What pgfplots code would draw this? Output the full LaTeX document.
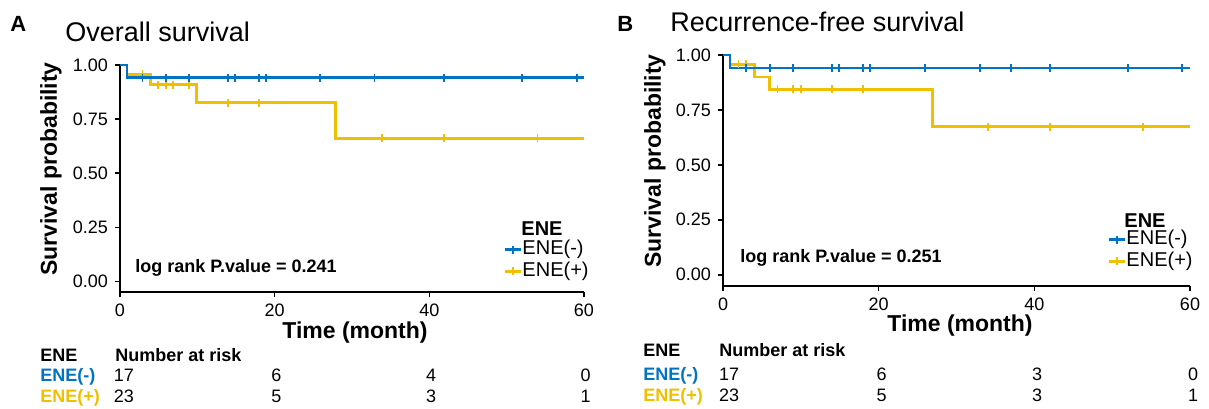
\documentclass[border=0pt]{standalone}
\usepackage{fontspec}
\setmainfont{Liberation Sans}
\usepackage{pgfplots}
\pgfplotsset{compat=1.18}

\definecolor{eneneg}{HTML}{0073C2}
\definecolor{enepos}{HTML}{EFC000}

\pgfplotsset{
  kmaxis/.style={
    scale only axis,
    xmin=0, xmax=60, ymin=-0.05, ymax=1.0,
    axis x line*=bottom, axis y line*=left,
    axis line style={line width=1pt, black},
    xtick={0,20,40,60}, ytick={0,0.25,0.5,0.75,1},
    tick align=outside, major tick length=2.5pt,
    tick style={line width=0.8pt, black},
    yticklabel style={/pgf/number format/fixed,
      /pgf/number format/fixed zerofill,
      /pgf/number format/precision=2},
    /pgf/number format/assume math mode=true,
    tick label style={font=\fontsize{9}{10}\selectfont},
    clip=false,
    legend style={draw=none, fill=none, inner sep=0pt,
      font=\fontsize{10}{11}\selectfont, row sep=0.8pt,
      nodes={inner sep=0pt, text height=7.5pt, text depth=2.5pt},
      cells={anchor=west}, anchor=south east},
    legend image code/.code={
      \draw[#1, line width=1.4pt] (0pt,0pt) -- (8pt,0pt);
      \draw[#1, line width=0.9pt] (4pt,-2pt) -- (4pt,2pt);},
  },
  km/.style={const plot, line width=1.4pt, no marks, forget plot},
  cens/.style={only marks, mark=|, mark size=2pt,
    mark options={line width=0.9pt}, forget plot},
}

\begin{document}
\begin{tikzpicture}
\path[use as bounding box] (0,0) rectangle (604.5pt,-204pt);

% ---------- A: overall survival ----------
\begin{axis}[kmaxis, at={(60pt,-146.15pt)}, anchor=south west,
  width=232pt, height=113.65pt,
  legend style={at={(rel axis cs:1,0)}, yshift=5.3pt, xshift=2.5pt}]
  \addlegendimage{eneneg}\addlegendentry{ENE(-)}
  \addlegendimage{enepos}\addlegendentry{ENE(+)}
  \addplot[km, enepos] coordinates {
    (0,1) (0.9,0.957) (3.95,0.909) (9.9,0.826) (27.9,0.661) (60,0.661)};
  \addplot[cens, enepos] coordinates {
    (2.9,0.957) (4.95,0.909) (5.9,0.909) (6.9,0.909) (8.9,0.909)
    (14.0,0.826) (18.0,0.826) (33.9,0.661) (41.9,0.661) (54.0,0.661)};
  \addplot[km, eneneg] coordinates {(0,1) (0.9,0.941) (60,0.941)};
  \addplot[cens, eneneg] coordinates {
    (2.9,0.941) (5.9,0.941) (8.9,0.941) (14.0,0.941) (14.85,0.941)
    (18.0,0.941) (18.9,0.941) (25.9,0.941) (32.9,0.941) (41.9,0.941)
    (52.0,0.941) (59.1,0.941)};
\end{axis}

% ---------- B: recurrence-free survival ----------
\begin{axis}[kmaxis, at={(361.5pt,-142.85pt)}, anchor=south west,
  width=233.5pt, height=115.35pt,
  legend style={at={(rel axis cs:1,0)}, yshift=7pt, xshift=1.5pt}]
  \addlegendimage{eneneg}\addlegendentry{ENE(-)}
  \addlegendimage{enepos}\addlegendentry{ENE(+)}
  \addplot[km, enepos] coordinates {
    (0,1) (0.9,0.957) (4.0,0.900) (6.0,0.844) (26.95,0.674) (60,0.674)};
  \addplot[cens, enepos] coordinates {
    (2.0,0.957) (3.0,0.957) (7.0,0.844) (9.0,0.844) (10.0,0.844)
    (14.0,0.844) (18.0,0.844) (34.0,0.674) (42.0,0.674) (54.0,0.674)};
  \addplot[km, eneneg] coordinates {(0,1) (0.9,0.941) (60,0.941)};
  \addplot[cens, eneneg] coordinates {
    (3.0,0.941) (6.0,0.941) (9.0,0.941) (14.0,0.941) (14.95,0.941)
    (18.0,0.941) (18.9,0.941) (26.0,0.941) (33.0,0.941) (37.0,0.941)
    (42.0,0.941) (52.0,0.941) (59.0,0.941)};
\end{axis}

% ---------- titles and labels ----------
\node[anchor=base west, inner sep=0pt, font=\fontsize{11}{12}\selectfont\bfseries] at (5pt,-15.85pt) {A};
\node[anchor=base west, inner sep=0pt, font=\fontsize{13.5}{15}\selectfont] at (32.5pt,-20.8pt) {Overall survival};
\node[anchor=base west, inner sep=0pt, font=\fontsize{11}{12}\selectfont\bfseries] at (308.5pt,-15.85pt) {B};
\node[anchor=base west, inner sep=0pt, font=\fontsize{13.5}{15}\selectfont] at (335pt,-15.85pt) {Recurrence-free survival};

\node[rotate=90, inner sep=0pt, font=\fontsize{11.5}{13}\selectfont\bfseries] at (25.5pt,-84.5pt) {Survival probability};
\node[rotate=90, inner sep=0pt, font=\fontsize{11.5}{13}\selectfont\bfseries] at (327.5pt,-80.5pt) {Survival probability};
\node[inner sep=0pt, font=\fontsize{11.5}{13}\selectfont\bfseries] at (177.5pt,-166.5pt) {Time (month)};
\node[inner sep=0pt, font=\fontsize{11.5}{13}\selectfont\bfseries] at (480pt,-163pt) {Time (month)};

\node[anchor=base west, inner sep=0pt, font=\fontsize{9}{10}\selectfont\bfseries] at (67.5pt,-136.3pt) {log rank P.value = 0.241};
\node[anchor=base west, inner sep=0pt, font=\fontsize{9}{10}\selectfont\bfseries] at (370pt,-131.3pt) {log rank P.value = 0.251};

\node[anchor=base, inner sep=0pt, font=\fontsize{10}{11}\selectfont\bfseries] at (271pt,-117.8pt) {ENE};
\node[anchor=base, inner sep=0pt, font=\fontsize{10}{11}\selectfont\bfseries] at (572.5pt,-113.7pt) {ENE};

% ---------- number at risk tables ----------
\begin{scope}[every node/.style={inner sep=0pt, font=\fontsize{9}{10}\selectfont}]
  \node[anchor=base west, font=\fontsize{9}{10}\selectfont\bfseries] at (20pt,-180.8pt) {ENE};
  \node[anchor=base west, font=\fontsize{9}{10}\selectfont\bfseries] at (57.5pt,-180.8pt) {Number at risk};
  \node[anchor=base west, font=\fontsize{9}{10}\selectfont\bfseries, text=eneneg] at (20pt,-190.8pt) {ENE(-)};
  \node[anchor=base west, font=\fontsize{9}{10}\selectfont\bfseries, text=enepos] at (20pt,-201.3pt) {ENE(+)};
  \node[anchor=base] at (62pt,-190.8pt) {17};
  \node[anchor=base] at (138.25pt,-190.8pt) {6};
  \node[anchor=base] at (215.5pt,-190.8pt) {4};
  \node[anchor=base] at (292.75pt,-190.8pt) {0};
  \node[anchor=base] at (62pt,-201.3pt) {23};
  \node[anchor=base] at (138.25pt,-201.3pt) {5};
  \node[anchor=base] at (215.5pt,-201.3pt) {3};
  \node[anchor=base] at (292.75pt,-201.3pt) {1};

  \node[anchor=base west, font=\fontsize{9}{10}\selectfont\bfseries] at (321.5pt,-178.3pt) {ENE};
  \node[anchor=base west, font=\fontsize{9}{10}\selectfont\bfseries] at (359.5pt,-178.3pt) {Number at risk};
  \node[anchor=base west, font=\fontsize{9}{10}\selectfont\bfseries, text=eneneg] at (321.5pt,-190pt) {ENE(-)};
  \node[anchor=base west, font=\fontsize{9}{10}\selectfont\bfseries, text=enepos] at (321.5pt,-200.8pt) {ENE(+)};
  \node[anchor=base] at (364.5pt,-190pt) {17};
  \node[anchor=base] at (440.8pt,-190pt) {6};
  \node[anchor=base] at (518.5pt,-190pt) {3};
  \node[anchor=base] at (596.5pt,-190pt) {0};
  \node[anchor=base] at (364.5pt,-200.8pt) {23};
  \node[anchor=base] at (440.8pt,-200.8pt) {5};
  \node[anchor=base] at (518.5pt,-200.8pt) {3};
  \node[anchor=base] at (596.5pt,-200.8pt) {1};
\end{scope}
\end{tikzpicture}
\end{document}
